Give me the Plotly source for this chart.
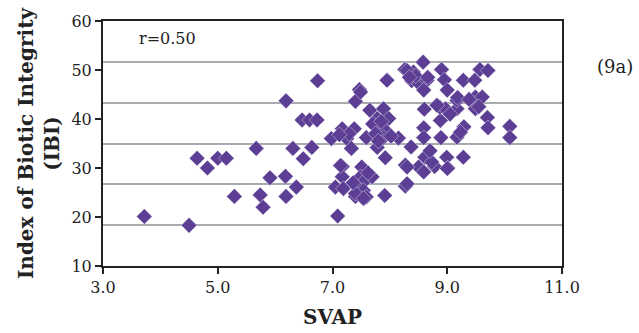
import plotly.graph_objects as go

svap = [3.72, 4.50, 4.64, 4.82, 5.00, 5.15, 5.29, 5.67, 5.74, 5.79, 5.91, 6.18, 6.19, 6.19, 6.31,
        6.37, 6.49, 6.47, 6.60, 6.73, 6.64, 6.74, 6.98, 7.09, 7.17, 7.38, 7.25, 7.33, 7.47, 7.40,
        7.65, 7.89, 7.78, 7.98, 7.83, 7.92, 7.59, 7.89, 8.15, 7.78, 7.92, 7.95, 7.17, 7.17, 7.05,
        7.19, 7.51, 7.49, 7.57, 7.69, 7.43, 7.54, 7.40, 7.59, 7.91, 8.27, 8.37, 8.27, 8.50, 8.61,
        8.78, 8.99, 9.01, 9.28, 8.60, 8.59, 8.59, 8.89, 8.88, 8.87, 8.97, 9.17, 9.17, 9.17, 9.29,
        9.23, 9.49, 9.49, 9.61, 9.70, 9.71, 10.09, 10.09, 8.26, 8.58, 8.41, 8.38, 8.51, 8.65, 8.59,
        8.90, 8.95, 9.00, 9.28, 9.48, 9.57, 9.71, 9.18, 8.73, 9.00, 8.59, 8.30, 7.49, 7.14, 7.40,
        7.54, 8.30, 8.30, 7.29, 7.12, 7.70, 7.75, 7.85, 8.02, 8.45, 8.66, 8.82, 9.05, 9.38, 9.55,
        7.62, 7.36, 7.80, 8.70, 8.34]
ibi = [20.1, 18.3, 32.0, 30.0, 32.0, 32.0, 24.2, 34.0, 24.5, 22.0, 28.0, 28.3, 43.7, 24.2, 34.0,
       26.1, 31.9, 39.8, 39.8, 39.8, 34.2, 47.8, 36.0, 20.2, 38.0, 38.0, 36.0, 34.0, 46.0, 43.6,
       41.8, 42.1, 40.1, 40.1, 38.4, 37.7, 36.2, 36.2, 36.1, 34.2, 32.1, 47.9, 30.3, 28.2, 26.1,
       25.8, 30.2, 28.2, 27.5, 28.2, 26.1, 25.4, 24.2, 24.1, 24.4, 30.6, 34.3, 26.3, 30.2, 32.2,
       30.3, 32.2, 30.0, 32.2, 42.0, 38.2, 36.2, 36.2, 39.7, 42.4, 42.1, 42.1, 43.8, 36.3, 38.4,
       37.3, 44.5, 42.1, 44.5, 40.3, 38.2, 38.5, 36.2, 50.1, 51.6, 49.6, 47.8, 47.2, 47.9, 45.9,
       50.1, 48.0, 45.9, 47.9, 47.9, 50.1, 49.9, 44.4, 31.2, 29.9, 29.2, 49.9, 45.5, 30.5, 24.8,
       23.8, 26.8, 30.2, 37.0, 36.8, 39.0, 37.0, 39.5, 36.5, 48.8, 48.5, 42.8, 41.0, 44.0, 42.5,
       29.0, 27.0, 35.5, 33.5, 48.5]

x_ticks = [3.0, 5.0, 7.0, 9.0, 11.0]
x_labels = ["3.0", "5.0", "7.0", "9.0", "11.0"]
y_ticks = [10, 20, 30, 40, 50, 60]

purple = "#5c3e95"
font_family = "DejaVu Serif"
ink = "#222222"

fig = go.Figure()
fig.add_trace(go.Scatter(
    x=svap, y=ibi, mode="markers",
    marker=dict(symbol="diamond", size=12, color=purple, line=dict(width=0.4, color="white")),
    showlegend=False, cliponaxis=False,
))
# invisible trace on overlay axis that carries the gridlines
fig.add_trace(go.Scatter(x=[3, 11], y=[10, 60], yaxis="y2", mode="markers",
                         marker=dict(opacity=0), showlegend=False, hoverinfo="skip"))

fig.update_layout(
    width=639, height=333,
    margin=dict(l=103, r=77, t=21, b=67),
    paper_bgcolor="white", plot_bgcolor="white",
    font=dict(family=font_family, color=ink),
    xaxis=dict(
        range=[3, 11], tickvals=x_ticks, ticktext=x_labels, automargin=False,
        ticks="outside", ticklen=6, tickwidth=2, tickcolor=ink,
        showline=True, linewidth=2, linecolor=ink, mirror=True,
        showgrid=False, zeroline=False,
        tickfont=dict(size=16, family=font_family, color=ink),
        title=dict(text="<b>SVAP</b>", font=dict(size=20, family=font_family, color=ink), standoff=14),
    ),
    yaxis=dict(
        range=[10, 60], tickvals=y_ticks, automargin=False,
        ticks="outside", ticklen=6, tickwidth=2, tickcolor=ink,
        showline=True, linewidth=2, linecolor=ink, mirror=True,
        showgrid=False, zeroline=False,
        tickfont=dict(size=16, family=font_family, color=ink),
        title=dict(text="<b>Index of Biotic Integrity<br>(IBI)</b>",
                   font=dict(size=20, family=font_family, color=ink), standoff=6),
    ),
    yaxis2=dict(
        range=[10, 60], overlaying="y", side="right",
        tick0=10, dtick=50 / 6, showticklabels=False, ticks="",
        showgrid=True, gridcolor="#a7abb0", gridwidth=1.5,
        zeroline=False, showline=False,
    ),
    annotations=[
        dict(text="r=0.50", xref="paper", yref="paper", x=0.073, y=0.93,
             xanchor="left", yanchor="middle", showarrow=False,
             font=dict(size=16, family=font_family, color=ink)),
        dict(text="(9a)", xref="paper", yref="paper", x=1.158, y=0.815,
             xanchor="right", yanchor="middle", showarrow=False,
             font=dict(size=18, family=font_family, color=ink)),
    ],
)
fig.write_html("out.html")
